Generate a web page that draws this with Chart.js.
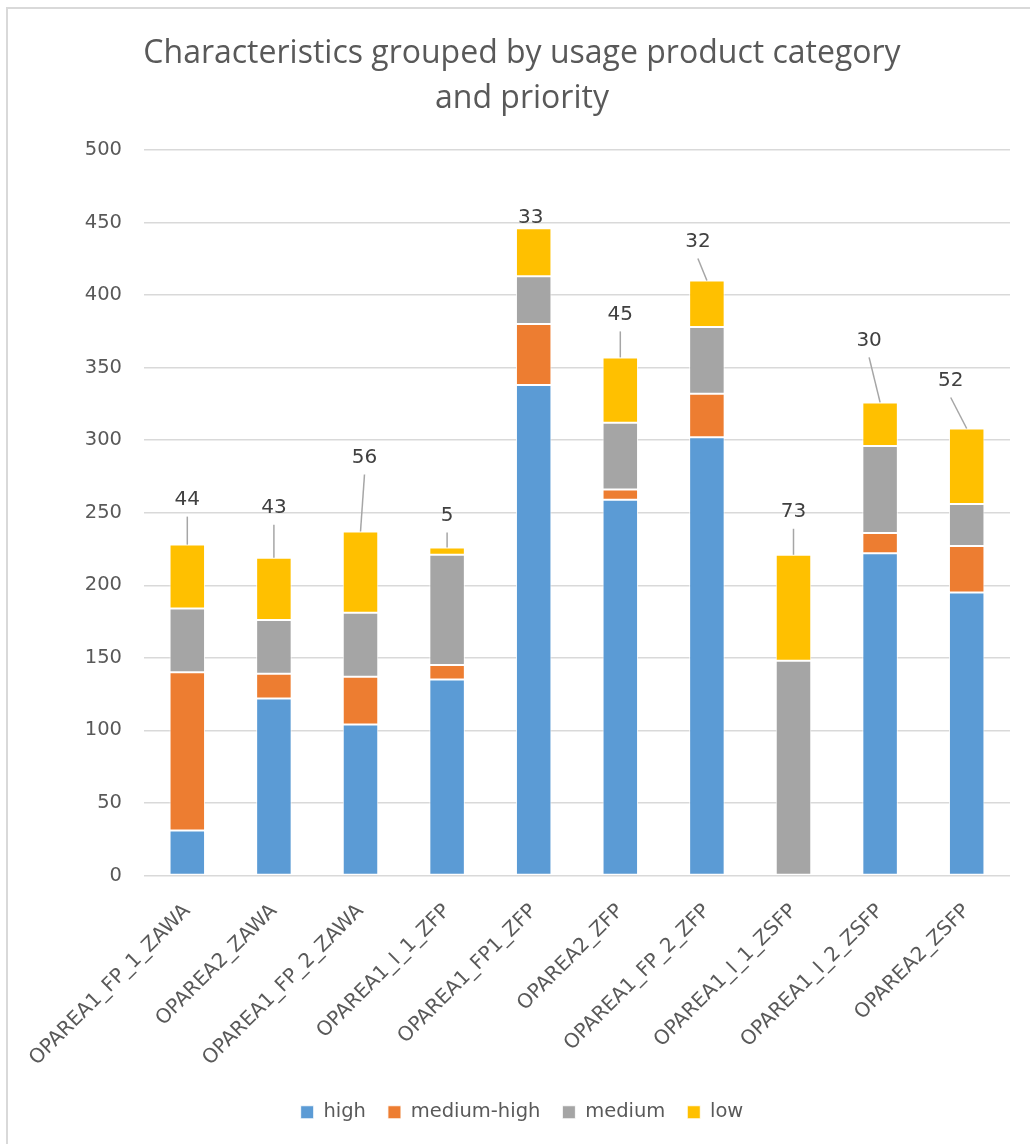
<!DOCTYPE html>
<html>
<head>
<meta charset="utf-8">
<script src="https://cdn.jsdelivr.net/npm/chart.js@4.4.1/dist/chart.umd.min.js"></script>
<style>
  html, body { margin: 0; padding: 0; background: #fff; }
  #frame {
    position: absolute; left: 6px; top: 7px; width: 1040px; height: 1160px;
    border: 2px solid #d9d9d9; box-sizing: border-box;
  }
  #wrap { position: absolute; left: 0; top: 0; width: 1030px; height: 1144px; }
</style>
</head>
<body>
<div id="frame"></div>
<div id="wrap"><canvas id="chart"></canvas></div>
<script>
// Data
const categories = [
    'OPAREA1_FP_1_ZAWA', 'OPAREA2_ZAWA', 'OPAREA1_FP_2_ZAWA', 'OPAREA1_I_1_ZFP', 'OPAREA1_FP1_ZFP',
    'OPAREA2_ZFP', 'OPAREA1_FP_2_ZFP', 'OPAREA1_I_1_ZSFP', 'OPAREA1_I_2_ZSFP', 'OPAREA2_ZSFP'
];
const high       = [31, 122, 104, 135, 338, 259, 302, 0, 222, 195];
const mediumHigh = [109, 17, 33, 10, 42, 7, 30, 0, 14, 32];
const medium     = [44, 37, 44, 76, 33, 46, 46, 148, 60, 29];
const low        = [44, 43, 56, 5, 33, 45, 32, 73, 30, 52];
const yTicks     = [0, 50, 100, 150, 200, 250, 300, 350, 400, 450, 500];

// callout offsets (px) of the "low" labels from the bar top
const labelOffsets = [
    [0, -45], [0, -50], [4, -74], [0, -32], [-3, -10],
    [0, -43], [-9, -39], [0, -43], [-11, -62], [-16, -48]
];

const FONT = 'DejaVu Sans';

const calloutPlugin = {
    id: 'callouts',
    afterDatasetsDraw(chart) {
        const ctx = chart.ctx;
        const meta = chart.getDatasetMeta(3);
        ctx.save();
        meta.data.forEach((bar, i) => {
            const [dx, dy] = labelOffsets[i];
            const lx = bar.x + dx, ly = bar.y + dy;
            if (ly + 17 < bar.y - 4) {
                ctx.strokeStyle = '#a6a6a6';
                ctx.lineWidth = 1.5;
                ctx.beginPath();
                ctx.moveTo(bar.x, bar.y);
                ctx.lineTo(lx, ly + 17);
                ctx.stroke();
            }
            ctx.fillStyle = '#404040';
            ctx.font = `20px "${FONT}"`;
            ctx.textAlign = 'center';
            ctx.textBaseline = 'middle';
            ctx.fillText(String(low[i]), lx, ly);
        });
        ctx.restore();
    }
};

const ds = (label, data, color) => ({
    label, data,
    backgroundColor: color,
    borderColor: 'rgba(255,255,255,0.85)',
    borderWidth: 1,
    borderSkipped: false,
    barPercentage: 0.41,
    categoryPercentage: 1
});

new Chart(document.getElementById('chart'), {
    type: 'bar',
    data: {
        labels: categories,
        datasets: [
            ds('high', high, '#5B9BD5'),
            ds('medium-high', mediumHigh, '#ED7D31'),
            ds('medium', medium, '#A5A5A5'),
            ds('low', low, '#FFC000')
        ]
    },
    options: {
        responsive: true,
        maintainAspectRatio: false,
        animation: false,
        layout: { padding: { left: 34, right: 20, top: 0, bottom: 12 } },
        scales: {
            x: {
                stacked: true,
                grid: { display: false },
                border: { display: false },
                ticks: {
                    color: '#595959',
                    font: { family: FONT, size: 20 },
                    maxRotation: 45, minRotation: 45,
                    autoSkip: false,
                    padding: 16
                },
                afterFit(scale) { scale.height = 205; }
            },
            y: {
                stacked: true,
                min: 0, max: 500,
                afterBuildTicks(scale) { scale.ticks = yTicks.map(v => ({ value: v })); },
                grid: { color: '#d9d9d9', lineWidth: 1.5, drawTicks: false },
                border: { display: false },
                ticks: {
                    color: '#595959',
                    font: { family: FONT, size: 19.5 },
                    padding: 22
                },
                afterFit(scale) { scale.width = 110; }
            }
        },
        plugins: {
            title: {
                display: true,
                text: ['Characteristics grouped by usage product category', 'and priority'],
                color: '#595959',
                font: { family: 'Open Sans', size: 32, weight: 'normal', lineHeight: 1.42 },
                padding: { top: 31, bottom: 28 }
            },
            legend: {
                position: 'bottom',
                labels: {
                    color: '#595959',
                    font: { family: FONT, size: 19.5 },
                    boxWidth: 13, boxHeight: 13,
                    padding: 22
                }
            },
            tooltip: { enabled: false }
        }
    },
    plugins: [calloutPlugin]
});
</script>
</body>
</html>
